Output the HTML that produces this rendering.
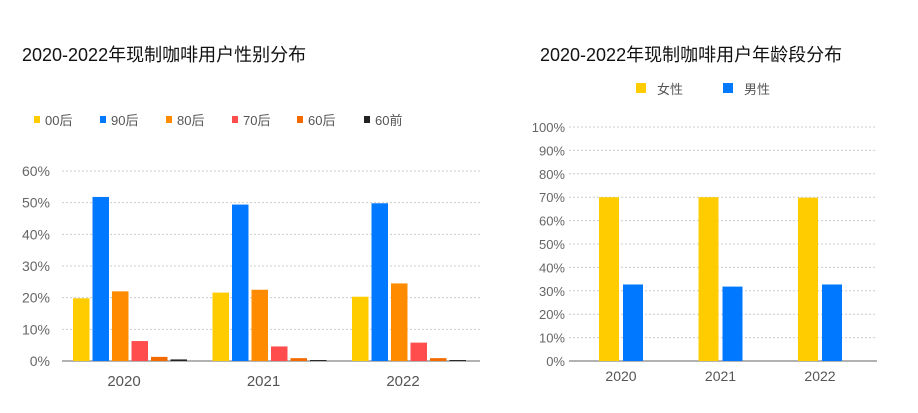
<!DOCTYPE html>
<html><head><meta charset="utf-8"><style>
body{margin:0;width:918px;height:413px;background:#fff;overflow:hidden}
svg{display:block;font-family:"Liberation Sans","Noto Sans CJK SC",sans-serif}
</style></head><body>
<svg id="c" width="918" height="413">
<text x="22" y="61" font-size="18" fill="#111">2020-2022年现制咖啡用户性别分布</text>
<text x="540" y="61" font-size="18" fill="#111">2020-2022年现制咖啡用户年龄段分布</text>
</svg>
<script>
const leftYears=["2020","2021","2022"];
const leftSeries=["00后","90后","80后","70后","60后","60前"];
const leftColors=["#FFCC00","#0078FF","#FF8C00","#FF4D4D","#F36B00","#222222"];
const v00=[19.8,21.6,20.3];
const v90=[51.8,49.4,49.8];
const v80=[22.0,22.5,24.5];
const v70=[6.3,4.6,5.8];
const v60=[1.3,0.9,0.9];
const v60q=[0.5,0.3,0.3];
const leftTicks=[0,10,20,30,40,50,60];
const rightYears=["2020","2021","2022"];
const female=[70.0,70.0,69.8];
const male=[32.7,31.8,32.7];
const rightTicks=[0,10,20,30,40,50,60,70,80,90,100];

const NS="http://www.w3.org/2000/svg",svg=document.getElementById('c');
function mk(t,a,txt){const e=document.createElementNS(NS,t);for(const k in a)e.setAttribute(k,a[k]);if(txt!==undefined)e.textContent=txt;svg.appendChild(e);return e;}

// left chart
const lY=v=>361-v*(190/60);
const lGroupX=i=>73+i*139.5;
leftTicks.forEach(t=>{
  const g=mk('line',{x1:62,x2:480,y1:lY(t),y2:lY(t),stroke:t?"#ccc":"#999","stroke-width":t?1:1.5,"stroke-dasharray":t?"2,2":""});
  
  
  const l=mk('text',{x:50,y:lY(t)+5,"text-anchor":"end","font-size":14,fill:"#666"},t+"%");
  
  
});
const lData=[v00,v90,v80,v70,v60,v60q];
lData.forEach((arr,s)=>{
  arr.forEach((v,i)=>{
    const b=mk('rect',{x:lGroupX(i)+s*19.5,y:lY(v),width:16.5,height:361-lY(v),fill:leftColors[s]});
    
    
  });
});
leftYears.forEach((y,i)=>{
  const t=mk('text',{x:lGroupX(i)+51,y:386,"text-anchor":"middle","font-size":15,fill:"#555"},y);
  
  
});
const legX=[34,100,166,232,297,364];
leftSeries.forEach((n,s)=>{
  const r=mk('rect',{x:legX[s],y:116,width:6,height:7,fill:leftColors[s]});
  
  
  const t=mk('text',{x:legX[s]+11,y:125,"font-size":13,fill:"#555"},n);
  
  
});

// right chart
const rY=v=>361-v*(234/100);
const rGroupX=i=>599+i*99.5;
rightTicks.forEach(t=>{
  const g=mk('line',{x1:569,x2:877,y1:rY(t),y2:rY(t),stroke:t?"#ccc":"#999","stroke-width":t?1:1.5,"stroke-dasharray":t?"2,2":""});
  
  
  const l=mk('text',{x:565,y:rY(t)+5,"text-anchor":"end","font-size":13,fill:"#666"},t+"%");
  
  
});
[female,male].forEach((arr,s)=>{
  arr.forEach((v,i)=>{
    const b=mk('rect',{x:rGroupX(i)+s*24,y:rY(v),width:20,height:361-rY(v),fill:s?"#0078FF":"#FFCC00"});
    
    
  });
});
rightYears.forEach((y,i)=>{
  const t=mk('text',{x:rGroupX(i)+22,y:381,"text-anchor":"middle","font-size":14,fill:"#555"},y);
  
  
});
[["女性","#FFCC00",636],["男性","#0078FF",723]].forEach(([n,c,x])=>{
  const r=mk('rect',{x:x,y:83,width:10,height:10,fill:c});
  
  
  const t=mk('text',{x:x+21,y:94,"font-size":13,fill:"#555"},n);
  
  
});
</script>
</body></html>
